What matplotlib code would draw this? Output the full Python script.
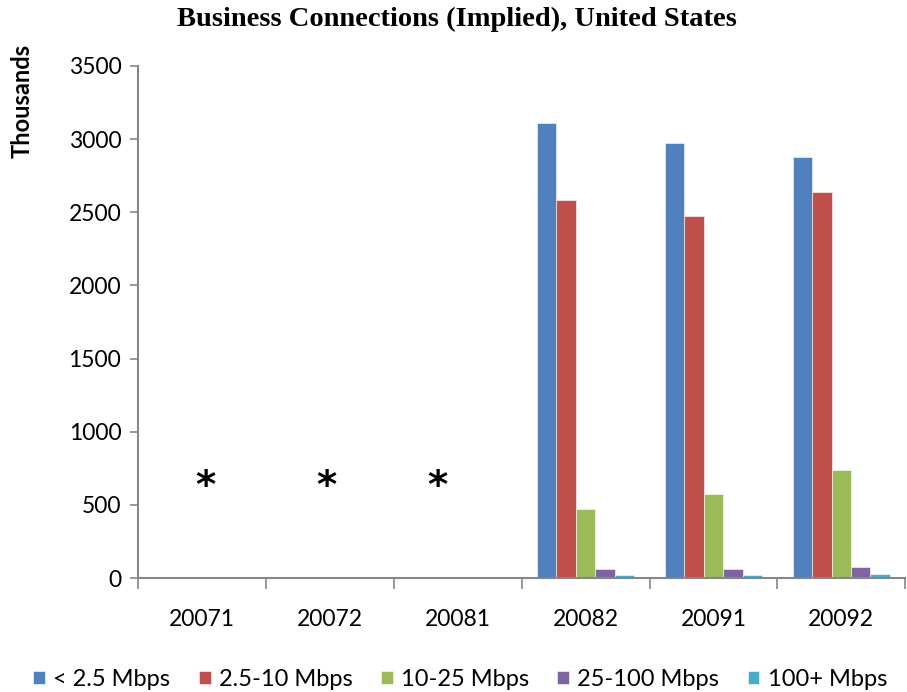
import matplotlib.pyplot as plt
import numpy as np

# values (thousands)
quarters = ["20071", "20072", "20081", "20082", "20091", "20092"]
series_names = ["< 2.5 Mbps", "2.5-10 Mbps", "10-25 Mbps", "25-100 Mbps", "100+ Mbps"]
lt_2_5 = [0, 0, 0, 3110, 2975, 2880]
mb_2_5_10 = [0, 0, 0, 2585, 2475, 2640]
mb_10_25 = [0, 0, 0, 470, 575, 735]
mb_25_100 = [0, 0, 0, 62, 63, 75]
mb_100_plus = [0, 0, 0, 20, 22, 28]
colors = ["#4F81BD", "#C0504D", "#9BBB59", "#8064A2", "#4BACC6"]
# quarters with no data are flagged with an asterisk
star_x = [0.03, 0.97, 1.84]
star_y = 620

series = [lt_2_5, mb_2_5_10, mb_10_25, mb_25_100, mb_100_plus]
font = "Lato"
axis_grey = "#868686"

fig = plt.figure(figsize=(9.07, 6.92), dpi=100)
ax = fig.add_axes([0.1521, 0.1647, 0.846, 0.74])

x = np.arange(len(quarters))
w = 0.152
for i, (vals, name, c) in enumerate(zip(series, series_names, colors)):
    ax.bar(x + (i - 2) * w, vals, width=w, color=c, label=name,
           edgecolor="white", linewidth=0.4)

for sx in star_x:
    ax.text(sx, star_y, "*", ha="center", va="center", fontsize=28,
            fontweight="bold", fontfamily="DejaVu Sans")

ax.set_xlim(-0.5, len(quarters) - 0.5)
ax.set_ylim(0, 3500)
ax.set_yticks(range(0, 3501, 500))
ax.set_xticks(x)
ax.set_xticklabels(quarters)
ax.set_xticks(np.arange(-0.5, len(quarters)), minor=True)
ax.tick_params(axis="x", which="major", length=0, pad=22)
ax.tick_params(axis="x", which="minor", length=8, color=axis_grey, width=1.2)
ax.tick_params(axis="y", length=6, color=axis_grey, width=1.2, pad=6)
for lab in ax.get_xticklabels() + ax.get_yticklabels():
    lab.set_fontfamily(font)
    lab.set_fontsize(16.5)

for s in ["top", "right"]:
    ax.spines[s].set_visible(False)
for s in ["left", "bottom"]:
    ax.spines[s].set_color(axis_grey)
    ax.spines[s].set_linewidth(1.5)

ax.set_ylabel("Thousands", fontfamily=font, fontweight="bold", fontsize=17)
ax.yaxis.set_label_coords(-0.136, 0.932)

fig.suptitle("Business Connections (Implied), United States",
             fontfamily="Liberation Serif", fontweight="bold", fontsize=20.5,
             x=0.504, y=0.99)

leg = ax.legend(loc="center", bbox_to_anchor=(0.42, -0.198), ncol=5,
                frameon=False, handlelength=0.5, handleheight=0.5,
                handletextpad=0.35, columnspacing=1.2,
                prop={"family": font, "size": 17})

fig.savefig("out.png", dpi=100)
